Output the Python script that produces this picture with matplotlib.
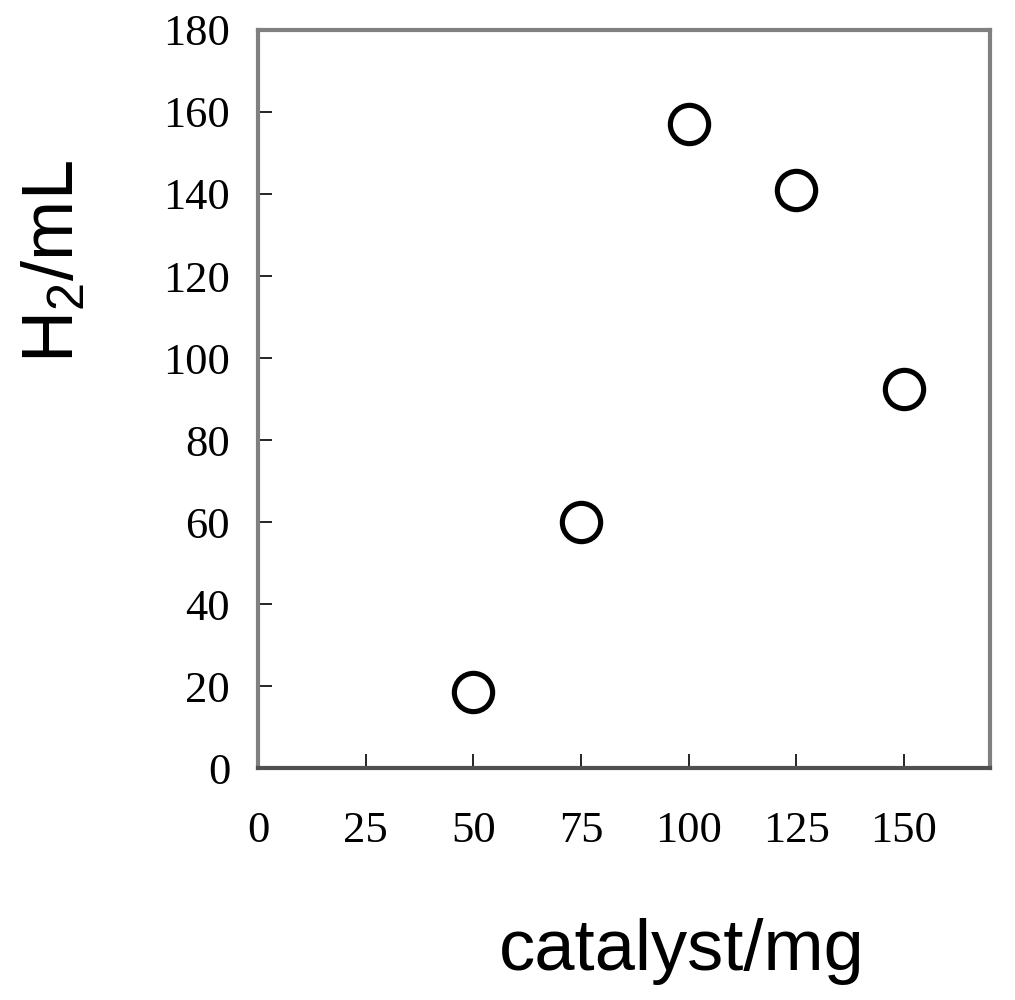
import matplotlib.pyplot as plt

plt.rcParams['mathtext.fontset'] = 'custom'
plt.rcParams['mathtext.rm'] = 'Liberation Sans'
plt.rcParams['mathtext.it'] = 'Liberation Sans'

catalyst_mg = [50, 75, 100, 125, 150]
h2_ml = [18.5, 60, 157, 141, 92.5]

x_ticks = [0, 25, 50, 75, 100, 125, 150]
y_ticks = [0, 20, 40, 60, 80, 100, 120, 140, 160, 180]

fig = plt.figure(figsize=(10.15, 10), dpi=100)
ax = fig.add_axes([0.2542, 0.232, 0.7212, 0.738])

ax.scatter(catalyst_mg, h2_ml, s=760, facecolors='white', edgecolors='black',
           linewidths=3.7, zorder=3, clip_on=False)

ax.set_xlim(0, 170)
ax.set_ylim(0, 180)
ax.set_xticks(x_ticks)
ax.set_yticks(y_ticks)

for side in ['top', 'left', 'right']:
    ax.spines[side].set_color('#808080')
    ax.spines[side].set_linewidth(3)
ax.spines['bottom'].set_color('#505050')
ax.spines['bottom'].set_linewidth(3)

ax.tick_params(axis='both', direction='in', length=10, width=1.2, color='black',
               labelsize=32)
ax.tick_params(axis='x', pad=31)
ax.tick_params(axis='y', pad=20)
for lab in ax.get_xticklabels() + ax.get_yticklabels():
    lab.set_family('Liberation Serif')

ax.set_xlabel('catalyst/mg', fontsize=52, family='Liberation Sans', va='center')
ax.xaxis.set_label_coords(0.579, -0.249)
ax.set_ylabel('H$_2$/mL', fontsize=52, family='Liberation Sans', va='center')
ax.yaxis.set_label_coords(-0.2773, 0.6856)

fig.savefig('out.png', dpi=100)
